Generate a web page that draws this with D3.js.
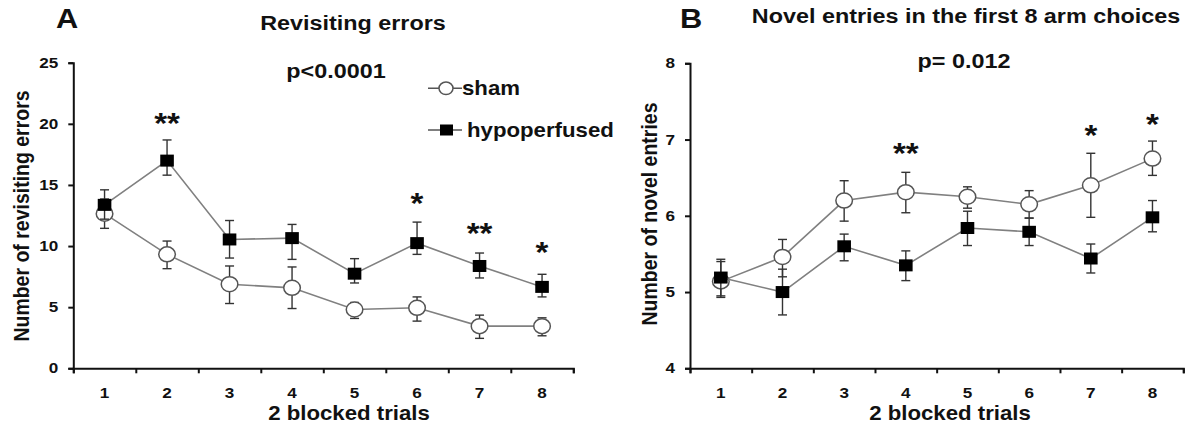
<!DOCTYPE html>
<html>
<head>
<meta charset="utf-8">
<script src="https://cdn.jsdelivr.net/npm/d3@7/dist/d3.min.js"></script>
<style>
  body { margin: 0; background: #fff; }
  svg { display: block; }
  text { font-family: "Liberation Sans", Arial, sans-serif; font-weight: bold; fill: #111; }
</style>
</head>
<body>
<div id="chart"></div>
<script>
// data
var trials = [1, 2, 3, 4, 5, 6, 7, 8];

var ticksA = [0, 5, 10, 15, 20, 25];
var shamErrMean = [12.65, 9.32, 6.88, 6.58, 4.81, 4.95, 3.45, 3.45];
var shamErrHi   = [13.85, 10.41, 8.37, 8.29, 5.38, 5.84, 4.35, 4.13];
var shamErrLo   = [11.45, 8.15, 5.30, 4.89, 4.08, 3.86, 2.45, 2.66];
var hypoErrMean = [13.37, 16.99, 10.54, 10.65, 7.74, 10.24, 8.37, 6.66];
var hypoErrHi   = [14.60, 18.68, 12.09, 11.77, 8.97, 11.96, 9.43, 7.69];
var hypoErrLo   = [12.20, 15.80, 9.02, 8.91, 6.98, 9.32, 7.39, 5.84];
var starsA = [{t: 2, v: 20.66, s: "**"}, {t: 6, v: 14.1, s: "*"},
              {t: 7, v: 11.68, s: "**"}, {t: 8, v: 10.1, s: "*"}];

var ticksB = [4, 5, 6, 7, 8];
var shamNovMean = [5.14, 5.46, 6.20, 6.31, 6.25, 6.15, 6.40, 6.75];
var shamNovHi   = [5.43, 5.69, 6.46, 6.57, 6.38, 6.33, 6.82, 6.98];
var shamNovLo   = [4.93, 5.20, 5.93, 6.04, 6.10, 5.97, 5.98, 6.53];
var hypoNovMean = [5.19, 5.00, 5.60, 5.35, 5.84, 5.79, 5.44, 5.98];
var hypoNovHi   = [5.40, 5.30, 5.76, 5.54, 6.06, 5.97, 5.63, 6.20];
var hypoNovLo   = [4.95, 4.70, 5.41, 5.15, 5.61, 5.61, 5.25, 5.79];
var starsB = [{t: 4, v: 6.91, s: "**"}, {t: 7, v: 7.15, s: "*"}, {t: 8, v: 7.30, s: "*"}];

var W = 1186, H = 429;
var SX = 1.14;   // the figure is a bit wider than tall

var svg = d3.select("#chart").append("svg")
    .attr("width", W).attr("height", H);

function label (sel, x, y, s, size, anchor) {
    return sel.append("text")
        .attr("transform", "translate(" + x + "," + y + ") scale(" + SX + ",1)")
        .attr("text-anchor", anchor || "middle")
        .style("font-size", size + "px")
        .text(s);
}

function series (mean, hi, lo) {
    return trials.map(function(t, i) { return {t: t, v: mean[i], hi: hi[i], lo: lo[i]}; });
}

function panel (p) {
    var g = svg.append("g");
    var x = d3.scaleLinear().domain([0.5, 8.5]).range([p.x0, p.x1]);
    var y = d3.scaleLinear().domain(p.domain).range([p.y0, p.y1]);

    // axes
    var ya = g.append("g").attr("transform", "translate(" + p.x0 + ",0)")
        .call(d3.axisLeft(y).tickValues(p.ticks).tickSize(5).tickFormat(""));
    var xa = g.append("g").attr("transform", "translate(0," + p.y0 + ")")
        .call(d3.axisBottom(x).tickValues(d3.range(0.5, 9, 1)).tickSize(5).tickFormat(""));
    g.selectAll(".domain, .tick line").style("stroke", "#111").style("stroke-width", 2);

    p.ticks.forEach(function(v) { label(g, p.x0 - 15, y(v) + 5, v, 15, "end"); });
    trials.forEach(function(t) { label(g, x(t), p.y0 + 30, t, 15); });

    label(g, p.xlabX, p.y0 + 52, "2 blocked trials", 19.5);
    g.append("text")
        .attr("transform", "translate(" + p.ylabX + "," + p.ylabY + ") rotate(-90) scale(1," + SX + ")")
        .attr("text-anchor", "middle")
        .style("font-size", "19.5px")
        .text(p.ylab);

    label(g, p.letterX, 28, p.letter, 27);
    label(g, p.titleX, p.titleY, p.title, 20.5);
    label(g, p.pX, p.pY, p.pText, 20.5);

    var line = d3.line().x(function(d) { return x(d.t); }).y(function(d) { return y(d.v); });

    [{d: p.sham, shape: "circle"}, {d: p.hypo, shape: "square"}].forEach(function(s) {
        var sg = g.append("g");
        sg.append("path").attr("d", line(s.d))
            .attr("fill", "none").attr("stroke", "#808080").attr("stroke-width", 1.6);
        var eb = sg.selectAll(".eb").data(s.d).enter().append("g")
            .attr("stroke", "#333").attr("stroke-width", 1.4);
        eb.append("line")
            .attr("x1", function(d) { return x(d.t); }).attr("x2", function(d) { return x(d.t); })
            .attr("y1", function(d) { return y(d.hi); }).attr("y2", function(d) { return y(d.lo); });
        eb.append("line")
            .attr("x1", function(d) { return x(d.t) - 4.5; }).attr("x2", function(d) { return x(d.t) + 4.5; })
            .attr("y1", function(d) { return y(d.hi); }).attr("y2", function(d) { return y(d.hi); });
        eb.append("line")
            .attr("x1", function(d) { return x(d.t) - 4.5; }).attr("x2", function(d) { return x(d.t) + 4.5; })
            .attr("y1", function(d) { return y(d.lo); }).attr("y2", function(d) { return y(d.lo); });
        if (s.shape == "circle") {
            sg.selectAll(".mk").data(s.d).enter().append("ellipse")
                .attr("cx", function(d) { return x(d.t); }).attr("cy", function(d) { return y(d.v); })
                .attr("rx", 8.3).attr("ry", 7.5)
                .attr("fill", "#fff").attr("stroke", "#555").attr("stroke-width", 1.5);
        } else {
            sg.selectAll(".mk").data(s.d).enter().append("rect")
                .attr("x", function(d) { return x(d.t) - 6.8; }).attr("y", function(d) { return y(d.v) - 6; })
                .attr("width", 13.6).attr("height", 12)
                .attr("fill", "#000");
        }
    });

    p.stars.forEach(function(s) { label(g, x(s.t), y(s.v) + 17, s.s, 29); });
    return g;
}

panel({
    x0: 73.3, x1: 573.3, y0: 368.3, y1: 62.7, domain: [0, 25], ticks: ticksA,
    sham: series(shamErrMean, shamErrHi, shamErrLo),
    hypo: series(hypoErrMean, hypoErrHi, hypoErrLo),
    stars: starsA,
    xlabX: 349, ylabX: 29, ylabY: 216, ylab: "Number of revisiting errors",
    letter: "A", letterX: 67, title: "Revisiting errors", titleX: 353, titleY: 30,
    pText: "p<0.0001", pX: 336, pY: 78
});

panel({
    x0: 690, x1: 1183.3, y0: 368.3, y1: 63.3, domain: [4, 8], ticks: ticksB,
    sham: series(shamNovMean, shamNovHi, shamNovLo),
    hypo: series(hypoNovMean, hypoNovHi, hypoNovLo),
    stars: starsB,
    xlabX: 950, ylabX: 657, ylabY: 214, ylab: "Number of novel entries",
    letter: "B", letterX: 691, title: "Novel entries in the first 8 arm choices", titleX: 966, titleY: 23,
    pText: "p= 0.012", pX: 964, pY: 68
});

// legend (panel A)
var lg = svg.append("g");
var legendItems = [{name: "sham", y: 88.3, tx: 462}, {name: "hypoperfused", y: 130, tx: 467}];
legendItems.forEach(function(it, i) {
    lg.append("line").attr("x1", 428).attr("x2", 462).attr("y1", it.y).attr("y2", it.y)
        .attr("stroke", "#555").attr("stroke-width", 1.6);
    if (i == 0) {
        lg.append("ellipse").attr("cx", 446).attr("cy", it.y).attr("rx", 7).attr("ry", 6.3)
            .attr("fill", "#fff").attr("stroke", "#555").attr("stroke-width", 1.5);
    } else {
        lg.append("rect").attr("x", 440).attr("y", it.y - 5.5).attr("width", 13).attr("height", 11)
            .attr("fill", "#000");
    }
    label(lg, it.tx, it.y + 7, it.name, 19.5, "start");
});
</script>
</body>
</html>
